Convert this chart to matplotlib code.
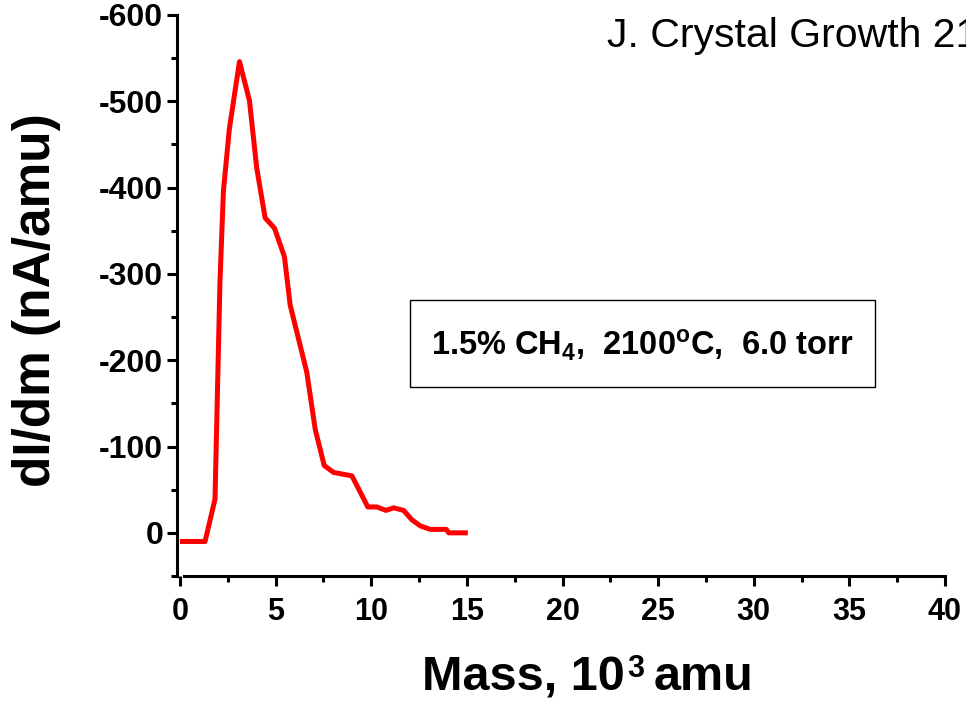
import matplotlib.pyplot as plt
import matplotlib.patches as patches
from matplotlib.ticker import MultipleLocator

plt.rcParams['font.family'] = ['Liberation Sans', 'DejaVu Sans']
plt.rcParams['mathtext.fontset'] = 'custom'
plt.rcParams['mathtext.rm'] = 'Liberation Sans:bold'
plt.rcParams['mathtext.it'] = 'Liberation Sans:bold'
plt.rcParams['mathtext.bf'] = 'Liberation Sans:bold'
plt.rcParams['axes.unicode_minus'] = False

# mass (10^3 amu) and dI/dm (nA/amu)
mass = [0.0, 1.31, 1.83, 2.09, 2.27, 2.58, 3.11, 3.63, 4.01, 4.45, 4.94, 5.46,
        5.76, 6.63, 7.07, 7.54, 8.03, 8.99, 9.82, 10.29, 10.77, 11.17, 11.69,
        12.13, 12.57, 13.09, 13.93, 14.05, 14.92]
didm = [10, 10, -39, -291, -396, -468, -546, -501, -423, -365, -353, -320,
        -264, -186, -120, -78, -70, -66, -30, -30, -26, -29, -26,
        -15, -8, -4, -4, 0, 0]

fig = plt.figure(figsize=(9.66, 7.02), dpi=100)
ax = fig.add_axes([180/966, 1-576/702, (945-180)/966, (576-15)/702])

ax.plot(mass, didm, color='red', lw=3.6)

ax.set_xlim(0, 40)
ax.set_ylim(50, -600)
ax.xaxis.set_major_locator(MultipleLocator(5))
ax.xaxis.set_minor_locator(MultipleLocator(2.5))
ax.yaxis.set_major_locator(MultipleLocator(100))
ax.yaxis.set_minor_locator(MultipleLocator(50))

for s in ['top', 'right']:
    ax.spines[s].set_visible(False)
for s in ['left', 'bottom']:
    ax.spines[s].set_linewidth(2.2)
ax.spines['left'].set_position(('outward', 2))
ax.spines['bottom'].set_bounds(0.2, 40)

ax.tick_params(which='major', length=7, width=2.2, direction='out', pad=3)
ax.tick_params(which='minor', length=4, width=2.2, direction='out')
ax.tick_params(axis='x', which='major', pad=8)
for lab in ax.get_yticklabels():
    lab.set_fontsize(23)
    lab.set_fontweight('bold')
for lab in ax.get_xticklabels():
    lab.set_fontsize(22)
    lab.set_fontweight('bold')

fig.text(37/966, 1-300/702, 'dI/dm (nA/amu)', rotation=90, fontsize=37,
         fontweight='bold', ha='center', va='center')
# x label with a hand-placed superscript
fig.text(625/966, 1-690/702, 'Mass, 10', fontsize=35,
         fontweight='bold', ha='right', va='baseline')
fig.text(627/966, 1-677/702, '3', fontsize=22,
         fontweight='bold', ha='left', va='baseline')
fig.text(654/966, 1-690/702, 'amu', fontsize=35,
         fontweight='bold', ha='left', va='baseline')
fig.text(607/966, 1-47/702, 'J. Crystal Growth 21', fontsize=29.5,
         ha='left', va='baseline')

fig.patches.append(patches.Rectangle((410/966, 1-387/702), 465/966, 87/702,
                                     transform=fig.transFigure, fill=False,
                                     edgecolor='black', lw=1.0))
fig.text(642/966, 1-345/702, '1.5% CH$_{4}$,  2100$^{o}$C,  6.0 torr',
         fontsize=23.5, fontweight='bold', ha='center', va='center')

fig.savefig('out.png', dpi=100)
